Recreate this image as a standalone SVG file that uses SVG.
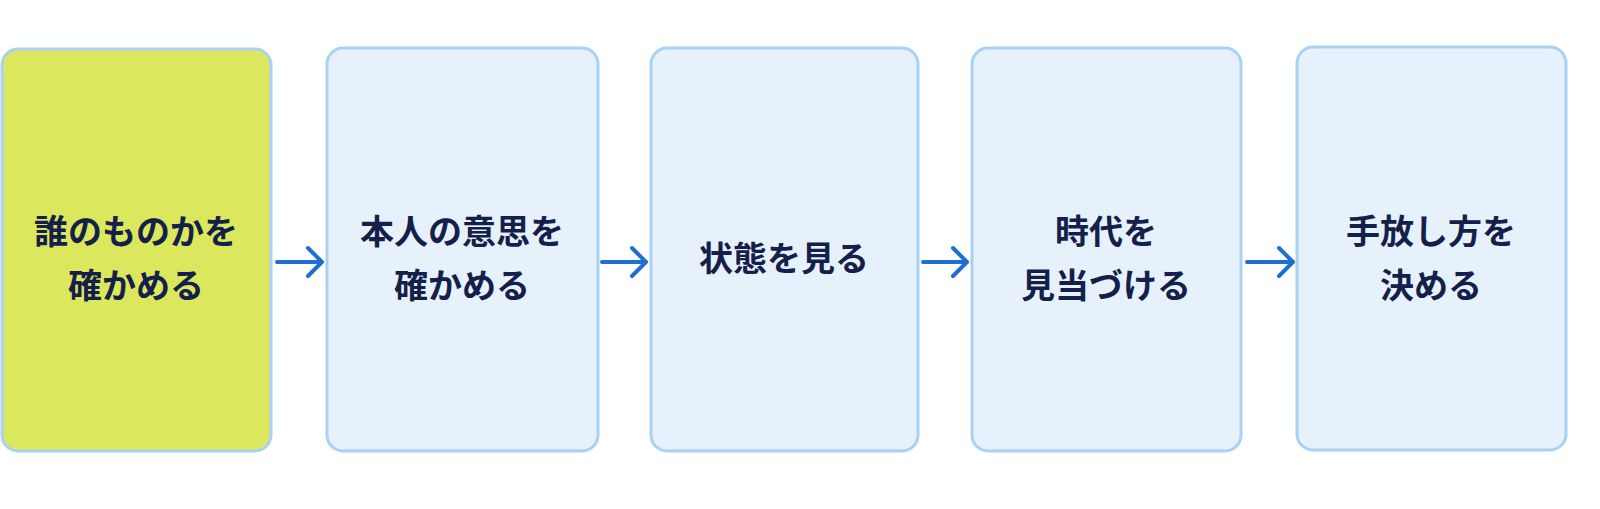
<svg xmlns="http://www.w3.org/2000/svg" width="1600" height="509" viewBox="0 0 1600 509">
<style>
.b{fill:#e6f1fc;stroke:#a9d0f5;stroke-width:3}
.y{fill:#dbe85e}
.t{font-family:"Noto Sans CJK JP",sans-serif;font-weight:bold;font-size:34px;fill:#15204a;text-anchor:middle}
.c{stroke:#1f6fd0;stroke-width:4;fill:none;stroke-linecap:round;stroke-linejoin:round}
</style>
<rect width="1600" height="509" fill="#fff"/>
<g id="n1"><rect class="b y" x="2" y="49" width="269" height="402" rx="16"/><text class="t" x="136" y="244">誰のものかを</text><text class="t" x="136" y="298">確かめる</text></g>
<g id="n2"><rect class="b" x="327" y="48" width="271" height="403" rx="16"/><text class="t" x="462" y="244">本人の意思を</text><text class="t" x="462" y="298">確かめる</text></g>
<g id="n3"><rect class="b" x="651" y="48" width="267" height="403" rx="16"/><text class="t" x="784" y="271">状態を見る</text></g>
<g id="n4"><rect class="b" x="972" y="48" width="269" height="403" rx="16"/><text class="t" x="1106" y="244">時代を</text><text class="t" x="1106" y="298">見当づける</text></g>
<g id="n5"><rect class="b" x="1297" y="47" width="269" height="403" rx="16"/><text class="t" x="1431" y="244">手放し方を</text><text class="t" x="1431" y="298">決める</text></g>
<g id="connectors">
<path class="c" d="M277 262H321M308 248L322 262L308 276"/>
<path class="c" d="M602 262H645M632 248L646 262L632 276"/>
<path class="c" d="M923 262H966M953 248L967 262L953 276"/>
<path class="c" d="M1247 262H1292M1279 248L1293 262L1279 276"/>
</g>
</svg>
